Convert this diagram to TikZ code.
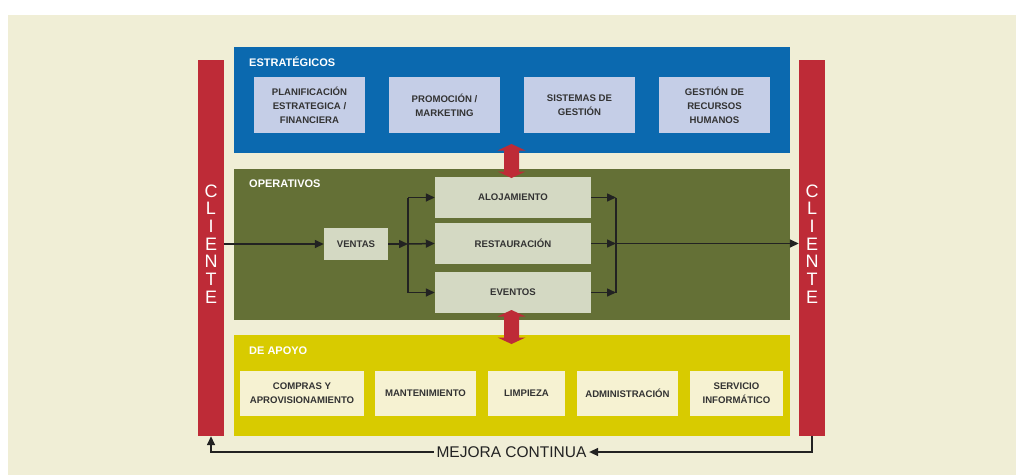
\documentclass[tikz,border=0pt]{standalone}
\usepackage{fontspec}
\setmainfont{Liberation Sans}
\usetikzlibrary{arrows.meta,calc}
\definecolor{bgbeige}{HTML}{F0EED6}
\definecolor{blueblk}{HTML}{0B69AF}
\definecolor{greenblk}{HTML}{647036}
\definecolor{yellowblk}{HTML}{D8CB00}
\definecolor{redbar}{HTML}{BE2B37}
\definecolor{lavbox}{HTML}{C5CEE7}
\definecolor{greenbox}{HTML}{D4D9C3}
\definecolor{yellowbox}{HTML}{F6F2D2}
\definecolor{ink}{HTML}{222222}
\definecolor{boxtext}{HTML}{333333}
\begin{document}
\begin{tikzpicture}[x=1pt,y=-1pt,
  block/.style={rectangle,inner sep=0pt,draw=none},
  inbox/.style={rectangle,inner sep=0pt,align=center,text=boxtext,
    font=\fontsize{9.6}{13.8}\selectfont\bfseries},
  seclabel/.style={anchor=west,inner sep=0pt,text=white,font=\fontsize{11}{12}\selectfont\bfseries},
  redcol/.style={rectangle,inner sep=0pt,fill=redbar,minimum width=26pt,minimum height=376pt},
  clientetxt/.style={inner sep=0pt,align=center,text=white,font=\fontsize{18}{17.7}\selectfont},
  conn/.style={draw=ink,line width=1.5pt},
  arr/.style={conn,-{Triangle[length=9pt,width=8pt]}},
  dblarrow/.style={fill=redbar}
]
\useasboundingbox (0,0) rectangle (1016,475);
\fill[white] (0,0) rectangle (1016,475);
\fill[bgbeige] (8,15) rectangle (1016,475);

% side bars
\node[redcol] (redL) at (211,248) {};
\node[redcol] (redR) at (812,248) {};
\node[clientetxt] (cliL) at (211,244) {C\\L\\I\\E\\N\\T\\E};
\node[clientetxt] (cliR) at (812,244) {C\\L\\I\\E\\N\\T\\E};

% main blocks
\node[block,fill=blueblk,minimum width=556pt,minimum height=106pt] (estr) at (512,100) {};
\node[block,fill=greenblk,minimum width=556pt,minimum height=151pt] (oper) at (512,244.5) {};
\node[block,fill=yellowblk,minimum width=556pt,minimum height=101pt] (apoyo) at (512,385.5) {};

\node[seclabel] (lestr) at (249,62) {ESTRATÉGICOS};
\node[seclabel] (loper) at (249,184) {OPERATIVOS};
\node[seclabel] (lapoyo) at (249,351) {DE APOYO};

% strategic boxes
\node[inbox,fill=lavbox,minimum width=111pt,minimum height=56pt] (plan) at (309.5,105) {PLANIFICACIÓN\\ESTRATEGICA /\\FINANCIERA};
\node[inbox,fill=lavbox,minimum width=111pt,minimum height=56pt] (prom) at (444.5,105) {PROMOCIÓN /\\MARKETING};
\node[inbox,fill=lavbox,minimum width=111pt,minimum height=56pt] (sist) at (579.5,105) {SISTEMAS DE\\GESTIÓN};
\node[inbox,fill=lavbox,minimum width=111pt,minimum height=56pt] (rrhh) at (714.5,105) {GESTIÓN DE\\RECURSOS\\HUMANOS};

% operative boxes
\node[inbox,fill=greenbox,minimum width=64pt,minimum height=32pt] (ventas) at (356,244) {VENTAS};
\node[inbox,fill=greenbox,minimum width=156pt,minimum height=41pt] (aloj) at (513,197.5) {ALOJAMIENTO};
\node[inbox,fill=greenbox,minimum width=156pt,minimum height=41pt] (rest) at (513,243.5) {RESTAURACIÓN};
\node[inbox,fill=greenbox,minimum width=156pt,minimum height=41pt] (even) at (513,292.5) {EVENTOS};

% support boxes
\node[inbox,fill=yellowbox,minimum width=124pt,minimum height=45pt] (compras) at (302,393.5) {COMPRAS Y\\APROVISIONAMIENTO};
\node[inbox,fill=yellowbox,minimum width=101pt,minimum height=45pt] (mant) at (425.5,393.5) {MANTENIMIENTO};
\node[inbox,fill=yellowbox,minimum width=77pt,minimum height=45pt] (limp) at (526.5,393.5) {LIMPIEZA};
\node[inbox,fill=yellowbox,minimum width=101pt,minimum height=45pt] (admin) at (627.5,393.5) {ADMINISTRACIÓN};
\node[inbox,fill=yellowbox,minimum width=93pt,minimum height=45pt] (serv) at (736.5,393.5) {SERVICIO\\INFORMÁTICO};

% flow connectors
\coordinate (fork) at (408,244);
\coordinate (join) at (616,244);
\draw[arr] (redL.east |- ventas.west) -- (ventas.west);
\draw[arr] (ventas.east) -- (fork);
\draw[conn] (fork |- aloj.west) -- (fork |- even.west);
\draw[arr] (fork |- aloj.west) -- (aloj.west);
\draw[arr] (fork) -- (rest.west);
\draw[arr] (fork |- even.west) -- (even.west);
\draw[arr] (aloj.east) -- (join |- aloj.east);
\draw[arr] (rest.east) -- (join |- rest.east);
\draw[arr] (even.east) -- (join |- even.east);
\draw[conn] (join |- aloj.east) -- (join |- even.east);
\draw[arr] (join |- rest.east) -- (redR.west |- rest.east);

% double arrows between blocks
\fill[dblarrow] (511.5,144) -- (525.5,150.5) -- (519,150.5) -- (519,171.5) -- (525.5,171.5) -- (511.5,178)
  -- (497.5,171.5) -- (504,171.5) -- (504,150.5) -- (497.5,150.5) -- cycle;
\fill[dblarrow] (511.5,310) -- (525.5,316.5) -- (519,316.5) -- (519,337.5) -- (525.5,337.5) -- (511.5,344)
  -- (497.5,337.5) -- (504,337.5) -- (504,316.5) -- (497.5,316.5) -- cycle;

% mejora continua loop
\node[inner sep=2.5pt,text=ink,font=\fontsize{15.5}{17}\selectfont] (mejora) at (511.5,452) {MEJORA CONTINUA};
\coordinate (cornR) at (redR.south |- mejora.east);
\coordinate (cornL) at (redL.south |- mejora.west);
\draw[arr] (redR.south) -- (cornR) -- (mejora.east);
\draw[arr] (mejora.west) -- (cornL) -- (redL.south);
\end{tikzpicture}
\end{document}
